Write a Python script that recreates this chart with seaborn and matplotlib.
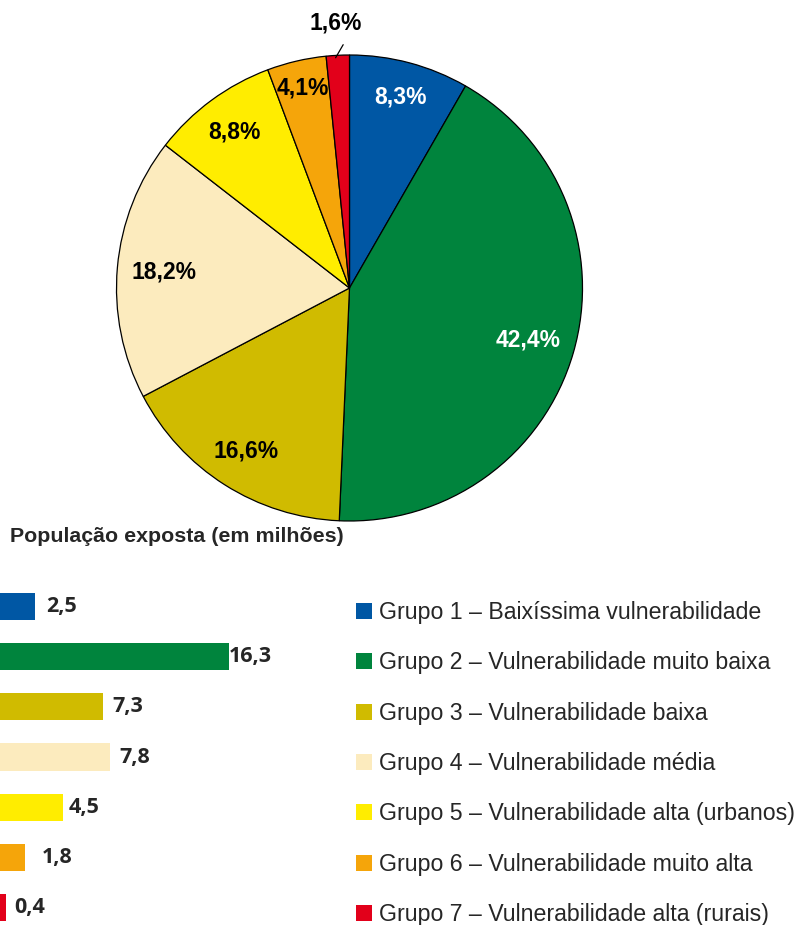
import numpy as np
import pandas as pd
import matplotlib
matplotlib.use("Agg")
import matplotlib.pyplot as plt
from matplotlib.patches import Patch
import seaborn as sns

sns.set_style("white")
plt.rcParams["font.family"] = ["Liberation Sans", "DejaVu Sans"]

grupos = [
    "Grupo 1 – Baixíssima vulnerabilidade",
    "Grupo 2 – Vulnerabilidade muito baixa",
    "Grupo 3 – Vulnerabilidade baixa",
    "Grupo 4 – Vulnerabilidade média",
    "Grupo 5 – Vulnerabilidade alta (urbanos)",
    "Grupo 6 – Vulnerabilidade muito alta",
    "Grupo 7 – Vulnerabilidade alta (rurais)",
]
percentuais = [8.3, 42.4, 16.6, 18.2, 8.8, 4.1, 1.6]
populacao = [2.5, 16.3, 7.3, 7.8, 4.5, 1.8, 0.4]
cores = ["#0057A4", "#00843D", "#D0BB00", "#FCEBBE", "#FFED00", "#F5A50A", "#E2001A"]
cor_texto = ["white", "white", "black", "black", "black", "black", "black"]

# label placement (fraction of radius) and bar-label gaps in px
raio_rotulo = [0.85, 0.80, 0.83, 0.80, 0.83, 0.88, 1.14]
folga_px = [11, 0, 10, 10, 5, 16, 9]

W, H = 799, 925
fig = plt.figure(figsize=(W / 100, H / 100), dpi=100)


def px_axes(x0, y0, x1, y1):
    return fig.add_axes([x0 / W, 1 - y1 / H, (x1 - x0) / W, (y1 - y0) / H])


def virgula(v, fmt="{:.1f}"):
    return fmt.format(v).replace(".", ",")


# pie
ax_pie = px_axes(116, 55, 583, 521)
wedges, _ = ax_pie.pie(percentuais, colors=cores, startangle=90, counterclock=False,
                       wedgeprops=dict(edgecolor="black", linewidth=0.9))
ax_pie.set_xlim(-1, 1)
ax_pie.set_ylim(-1, 1)
ax_pie.set_aspect("equal")

for w, p, r, c in zip(wedges, percentuais, raio_rotulo, cor_texto):
    ang = np.deg2rad((w.theta1 + w.theta2) / 2)
    pos = (r * np.cos(ang), r * np.sin(ang))
    txt = virgula(p) + "%"
    if r > 1:
        ax_pie.annotate(txt, xy=(0.99 * np.cos(ang + 0.01), 0.99 * np.sin(ang + 0.01)),
                        xytext=pos, ha="center", va="center", fontsize=16.5,
                        fontweight="bold", color=c, annotation_clip=False,
                        arrowprops=dict(arrowstyle="-", color="black", lw=0.9,
                                        relpos=(0.75, 0.0), shrinkA=6, shrinkB=0))
    else:
        ax_pie.text(*pos, txt, ha="center", va="center", fontsize=16.5,
                    fontweight="bold", color=c)

# bars
fig.text(10 / W, 1 - 537 / H, "População exposta (em milhões)", fontsize=15.4,
         fontweight="bold", va="center", ha="left")

df = pd.DataFrame({"grupo": grupos, "pop": populacao})
ax_bar = px_axes(0, 581, 340, 925)
sns.barplot(data=df, x="pop", y="grupo", hue="grupo", palette=cores, width=0.54,
            orient="h", legend=False, ax=ax_bar, saturation=1, linewidth=0)
ax_bar.set_xlim(0, 340 / 14.05)
ax_bar.set_ylim(6.34, -0.5)
ax_bar.axis("off")

for cont, v, g in zip(ax_bar.containers, populacao, folga_px):
    bar = cont.patches[0]
    ax_bar.annotate(virgula(v), xy=(bar.get_width(), bar.get_y() + bar.get_height() / 2),
                    xytext=(g * 0.72, 0), textcoords="offset points", ha="left",
                    va="center", fontsize=15.5, fontweight="bold",
                    family=["Open Sans", "DejaVu Sans"])

# legend
handles = [Patch(facecolor=c, edgecolor="none", label=g) for c, g in zip(cores, grupos)]
fig.legend(handles=handles, loc="upper left", bbox_to_anchor=(356 / W, 1 - 601 / H),
           frameon=False, fontsize=16.7, handlelength=0.7, handleheight=0.7,
           handletextpad=0.3, labelspacing=1.18, borderaxespad=0, borderpad=0)

fig.savefig("out.png", dpi=100)
